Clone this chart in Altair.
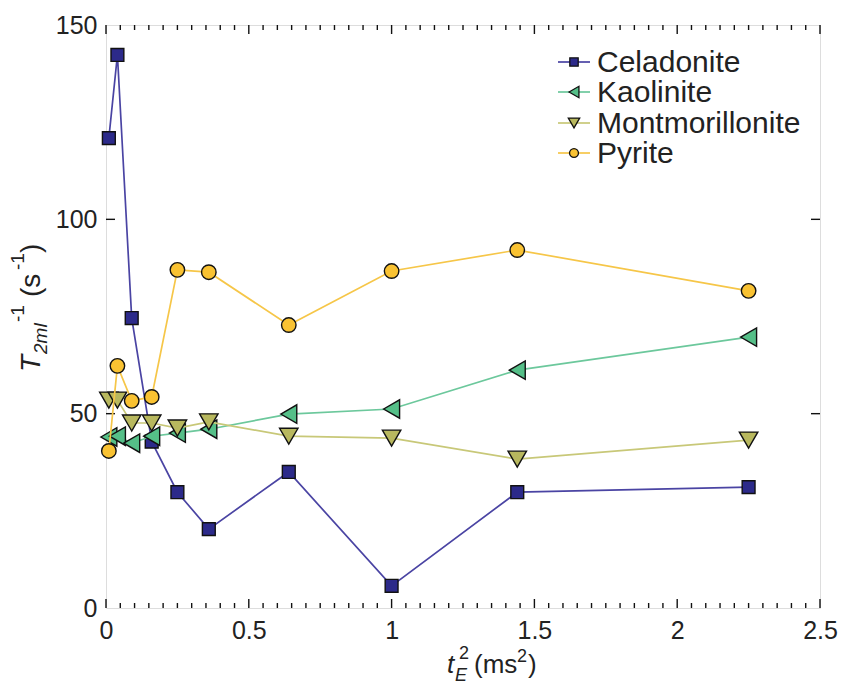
import altair as alt
import pandas as pd

# ---------------- data ----------------
t_e2 = [0.01, 0.04, 0.09, 0.16, 0.25, 0.36, 0.64, 1.0, 1.44, 2.25]
celadonite = [120.9, 142.3, 74.6, 42.8, 29.8, 20.3, 35.0, 5.7, 29.8, 31.1]
kaolinite = [44.0, 44.2, 42.4, 44.2, 45.0, 46.0, 49.9, 51.2, 61.2, 69.7]
montmorillonite = [53.5, 53.5, 47.6, 47.6, 46.3, 47.9, 44.2, 43.7, 38.3, 43.2]
pyrite = [40.4, 62.3, 53.3, 54.3, 87.0, 86.4, 72.8, 86.7, 92.1, 81.6]

series_names = ["Celadonite", "Kaolinite", "Montmorillonite", "Pyrite"]
series_values = [celadonite, kaolinite, montmorillonite, pyrite]
line_colors = ["#4a44a3", "#6cc89c", "#c8c878", "#f6c648"]
fill_colors = ["#2c2a8a", "#55bf88", "#b8b85e", "#f9c232"]
shapes = ["square", "triangle-left", "triangle-down", "circle"]
sizes = [165, 340, 340, 210]
legend_sizes = [70, 130, 130, 80]

x_major = [0, 0.5, 1, 1.5, 2, 2.5]
x_minor = [round(i * 0.05, 2) for i in range(51) if i % 10 != 0]
y_major = [0, 50, 100, 150]
y_inner = [50, 100]

W, H = 714, 583
FONT = "Liberation Sans"

xscale = alt.Scale(domain=[0, 2.5], nice=False, zero=False)
yscale = alt.Scale(domain=[0, 150], nice=False, zero=False)

layers = []

base_df = pd.DataFrame({"x": [0.0, 2.5], "y": [0.0, 150.0]})
base = alt.Chart(base_df).mark_point(opacity=0).encode(
    x=alt.X("x:Q", scale=xscale,
            axis=alt.Axis(values=x_major, title=None, labelFontSize=25,
                          labelFont=FONT, labelColor="#222", labelPadding=10,
                          ticks=False, domain=False, grid=False,
                          labelExpr="format(datum.value, '~g')",
                          labelFlush=False)),
    y=alt.Y("y:Q", scale=yscale,
            axis=alt.Axis(values=y_major, title=None, labelFontSize=25,
                          labelFont=FONT, labelColor="#222", labelPadding=9,
                          ticks=False, domain=False, grid=False,
                          labelFlush=False)),
)
layers.append(base)

# inward ticks (lengths: major 9px, minor 5px)
px_per_y = H / 150.0
tick_style = dict(color="#111", strokeWidth=1.4)
for vals, ln in [(x_major, 9), (x_minor, 5)]:
    d = ln / px_per_y
    bot = pd.DataFrame({"v": vals, "a": [0.0] * len(vals), "b": [d] * len(vals)})
    top = pd.DataFrame({"v": vals, "a": [150.0] * len(vals), "b": [150.0 - d] * len(vals)})
    for df in (bot, top):
        layers.append(alt.Chart(df).mark_rule(**tick_style).encode(
            x=alt.X("v:Q", scale=xscale),
            y=alt.Y("a:Q", scale=yscale), y2="b:Q"))
ymaj_df = pd.DataFrame({"v": y_inner})
layers.append(alt.Chart(ymaj_df).mark_rule(**tick_style).encode(
    y=alt.Y("v:Q", scale=yscale), x=alt.value(0), x2=alt.value(9)))
layers.append(alt.Chart(ymaj_df).mark_rule(**tick_style).encode(
    y=alt.Y("v:Q", scale=yscale), x=alt.value(W - 9), x2=alt.value(W)))

# series
for name, vals, lc, fc, sh, sz in zip(series_names, series_values, line_colors,
                                      fill_colors, shapes, sizes):
    df = pd.DataFrame({"x": t_e2, "y": vals})
    enc = dict(x=alt.X("x:Q", scale=xscale), y=alt.Y("y:Q", scale=yscale))
    layers.append(alt.Chart(df).mark_line(color=lc, strokeWidth=1.7).encode(**enc))
    layers.append(alt.Chart(df).mark_point(shape=sh, size=sz, filled=True,
                                           fill=fc, stroke="#111", strokeWidth=1.4,
                                           opacity=1).encode(**enc))

# legend (manual)
dummy = pd.DataFrame({"a": [0]})
leg_y = [37, 67, 98, 128]
for name, lc, fc, sh, ls, yy in zip(series_names, line_colors, fill_colors, shapes,
                                    legend_sizes, leg_y):
    layers.append(alt.Chart(dummy).mark_rule(color=lc, strokeWidth=1.7).encode(
        x=alt.value(452), x2=alt.value(484), y=alt.value(yy)))
    layers.append(alt.Chart(dummy).mark_point(shape=sh, size=ls, filled=True,
                                              fill=fc, stroke="#111", strokeWidth=1.3,
                                              opacity=1).encode(
        x=alt.value(468), y=alt.value(yy)))
    layers.append(alt.Chart(dummy).mark_text(text=name, font=FONT, fontSize=30,
                                             align="left", baseline="middle",
                                             color="#222").encode(
        x=alt.value(491), y=alt.value(yy + 1)))

# x-axis title: t_E^2 (ms^2)  (plot coordinates)
xt = [("t", 341, 648, 26, "italic"),
      ("E", 349, 656, 18, "italic"),
      ("2", 353, 634, 18, "normal"),
      ("(ms", 368, 648, 26, "normal"),
      ("2", 411, 637, 18, "normal"),
      (")", 422, 648, 26, "normal")]
for txt, px, py, fs, st in xt:
    layers.append(alt.Chart(dummy).mark_text(text=txt, font=FONT, fontSize=fs,
                                             fontStyle=st, align="left",
                                             baseline="alphabetic", color="#222").encode(
        x=alt.value(px), y=alt.value(py)))

# y-axis title: T_2ml^-1 (s^-1), rotated
yt = [("T", -66, 347, 28, "italic"),
      ("2ml", -59, 329, 19, "italic"),
      ("-1", -82, 297, 19, "normal"),
      ("(s", -66, 272, 28, "normal"),
      ("-1", -82, 245, 19, "normal"),
      (")", -66, 228, 28, "normal")]
for txt, px, py, fs, st in yt:
    layers.append(alt.Chart(dummy).mark_text(text=txt, font=FONT, fontSize=fs,
                                             fontStyle=st, align="left", angle=270,
                                             baseline="alphabetic", color="#222").encode(
        x=alt.value(px), y=alt.value(py)))

chart = alt.layer(*layers).properties(
    width=W, height=H,
    autosize=alt.AutoSizeParams(type="none"),
    padding={"left": 106, "top": 25, "right": 25, "bottom": 79},
).configure_view(stroke="#222", strokeWidth=1.5).configure(background="white")

chart.save("out.html", embed_options={"renderer": "svg", "actions": False})
